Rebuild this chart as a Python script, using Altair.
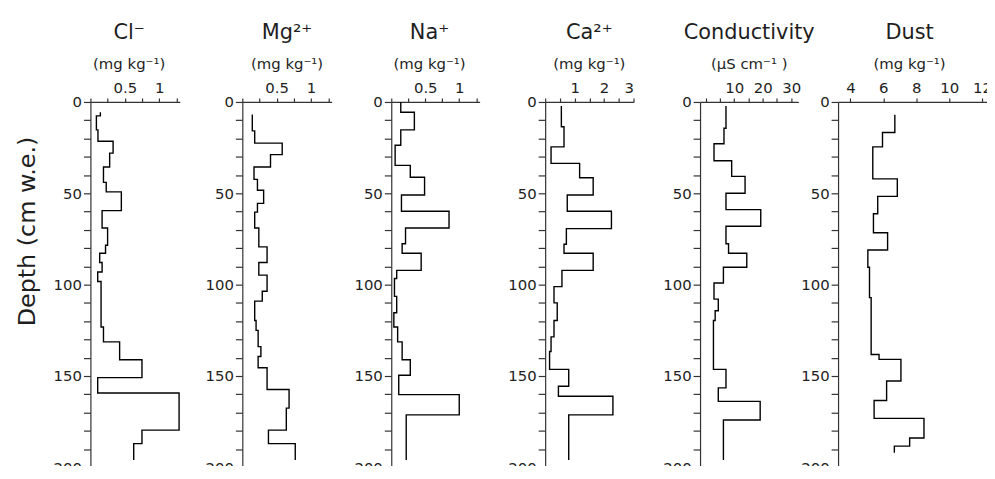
import altair as alt
import pandas as pd

FONT = "DejaVu Sans"
INK = "#1e1e1e"

# ---- data: depth boundaries (cm w.e.) and step values -------------------
cl_depth = [5.6, 7.6, 15.3, 21.5, 28.0, 35.6, 44.0, 49.2, 59.5, 69.0, 78.4, 82.8,
            87.9, 93.1, 98.3, 123.2, 131.3, 141.1, 150.9, 159.3, 179.6, 187.0, 196.0]
cl_vals = [0.145, 0.087, 0.11, 0.33, 0.28, 0.19, 0.23, 0.45, 0.17, 0.25, 0.22,
           0.135, 0.17, 0.106, 0.155, 0.19, 0.425, 0.75, 0.106, 1.29, 0.75, 0.63]

mg_depth = [6.8, 15.8, 22.5, 28.8, 35.6, 42.4, 48.3, 55.5, 60.3, 69.0, 79.3, 87.9,
            94.8, 103.6, 109.0, 119.6, 125.0, 133.9, 139.3, 145.5, 157.4, 167.6,
            179.6, 187.0, 196.0]
mg_vals = [0.145, 0.18, 0.58, 0.41, 0.17, 0.22, 0.31, 0.22, 0.18, 0.24, 0.36, 0.24,
           0.36, 0.29, 0.18, 0.2, 0.23, 0.27, 0.23, 0.36, 0.68, 0.64, 0.38, 0.77]

na_depth = [0.0, 5.6, 15.3, 23.7, 34.7, 41.2, 50.9, 59.8, 69.0, 77.6, 82.8, 92.2,
            96.6, 106.4, 115.4, 123.2, 131.3, 141.1, 149.6, 160.2, 171.3, 196.0]
na_vals = [0.14, 0.34, 0.14, 0.057, 0.28, 0.49, 0.15, 0.85, 0.21, 0.16, 0.44, 0.08,
           0.047, 0.08, 0.038, 0.094, 0.16, 0.28, 0.11, 1.0, 0.22]

ca_depth = [2.2, 13.6, 24.6, 33.6, 41.5, 50.9, 59.8, 69.3, 77.9, 82.8, 92.2, 101.1,
            110.0, 119.6, 128.6, 136.6, 146.4, 155.6, 161.1, 171.3, 196.0]
ca_vals = [0.55, 0.64, 0.2, 1.17, 1.63, 0.75, 2.25, 0.72, 0.64, 1.63, 0.57, 0.3,
           0.41, 0.3, 0.2, 0.15, 0.8, 0.45, 2.3, 0.8]

cond_depth = [2.2, 14.4, 22.9, 32.2, 40.7, 50.0, 58.9, 68.0, 77.6, 82.8, 90.5, 99.1,
              107.9, 114.3, 119.6, 146.4, 156.5, 163.9, 174.1, 196.0]
cond_vals = [7.1, 6.4, 2.9, 9.1, 13.8, 7.1, 19.3, 7.1, 8.0, 14.4, 6.2, 2.9, 4.4,
             3.3, 2.7, 7.1, 4.4, 19.1, 6.2]

dust_depth = [7.0, 16.7, 24.6, 42.1, 51.7, 61.2, 71.6, 81.0, 90.5, 107.1, 138.2,
              140.9, 152.7, 163.4, 173.2, 183.9, 188.4, 192.0]
dust_vals = [6.7, 5.95, 5.36, 6.85, 5.66, 5.4, 6.26, 5.06, 5.16, 5.26, 5.74, 7.07,
             6.2, 5.44, 8.47, 7.6, 6.67]

# axis ticks / labels
cl_ticks = [0, 0.25, 0.5, 0.75, 1, 1.25]
ion_labels = [0.5, 1]
ca_ticks = [0, 0.5, 1, 1.5, 2, 2.5, 3]
ca_labels = [1, 2, 3]
cond_ticks = [0, 5, 10, 15, 20, 25, 30]
cond_labels = [10, 20, 30]
dust_ticks = [4, 6, 8, 10, 12]
dust_labels = [4, 6, 8, 10, 12]
depth_ticks = list(range(0, 201, 10))

PLOT_H = 368


def steps(depths, vals):
    rows = []
    for i, v in enumerate(vals):
        rows.append({"seq": 2 * i, "depth": depths[i], "value": v})
        rows.append({"seq": 2 * i + 1, "depth": depths[i + 1], "value": v})
    return pd.DataFrame(rows)


def panel(depths, vals, name, unit, domain, rng, width, ticks, labels,
          ytitle=None, tdx=0):
    df = steps(depths, vals)
    xaxis = alt.Axis(
        orient="top", values=ticks, format="~g",
        labelExpr=f"indexof({labels}, datum.value) >= 0 ? datum.label : ''",
        title=None, tickSize=4, labelPadding=3, labelFontSize=15,
        grid=False,
    )
    yargs = dict(
        values=depth_ticks,
        labelExpr="datum.value % 50 == 0 ? datum.label : ''",
        tickSize=7, labelPadding=2, labelFontSize=15, grid=False,
    )
    if ytitle:
        yargs.update(title=ytitle, titleFontSize=24, titleFontWeight="normal",
                     titleX=-51, titleY=130, titleBaseline="bottom",
                     titleColor=INK, titleFont=FONT)
    else:
        yargs.update(title=None)
    yaxis = alt.Axis(**yargs)
    line = alt.Chart(df).mark_line(color="black", strokeWidth=1.4).encode(
        x=alt.X("value:Q", scale=alt.Scale(domain=domain, range=[0, rng], nice=False,
                                          zero=False), axis=xaxis),
        y=alt.Y("depth:Q", scale=alt.Scale(domain=[0, 200], reverse=True, nice=False),
                axis=yaxis),
        order="seq:Q",
    )
    return line.properties(
        width=width, height=PLOT_H,
        title=alt.TitleParams(
            text=name, subtitle=unit, anchor="start", align="center", frame="group",
            dx=rng / 2 + tdx, fontSize=21, subtitleFontSize=15, font=FONT,
            subtitleFont=FONT, fontWeight="normal", color=INK,
            subtitleColor=INK, offset=8, subtitlePadding=14,
        ),
    )


unit_mg = "(mg kg⁻¹)"
panels = [
    panel(cl_depth, cl_vals, "Cl⁻", unit_mg, [0, 1.3], 90, 153, cl_ticks, ion_labels,
          ytitle="Depth (cm w.e.)", tdx=-6),
    panel(mg_depth, mg_vals, "Mg²⁺", unit_mg, [0, 1.3], 90, 150, cl_ticks, ion_labels),
    panel(na_depth, na_vals, "Na⁺", unit_mg, [0, 1.3], 89, 155, cl_ticks, ion_labels,
          tdx=-6),
    panel(ca_depth, ca_vals, "Ca²⁺", unit_mg, [0, 3], 89, 156, ca_ticks, ca_labels),
    panel(cond_depth, cond_vals, "Conductivity", "(μS cm⁻¹ )", [-2, 32.5], 99, 139,
          cond_ticks, cond_labels),
    panel(dust_depth, dust_vals, "Dust", unit_mg, [3.25, 12.3], 150, 150,
          dust_ticks, dust_labels, tdx=-3),
]

chart = alt.hconcat(*panels, spacing=0, bounds="flush").properties(
    padding={"left": 7, "top": 13, "right": -5, "bottom": -11}
).configure_view(stroke=None).configure_axis(
    domainColor="#333", tickColor="#333", labelColor=INK, labelFont=FONT,
    titleFont=FONT, domainWidth=1.2, tickWidth=1.2,
)

chart.save("out.html", embed_options={"renderer": "svg", "actions": False})
